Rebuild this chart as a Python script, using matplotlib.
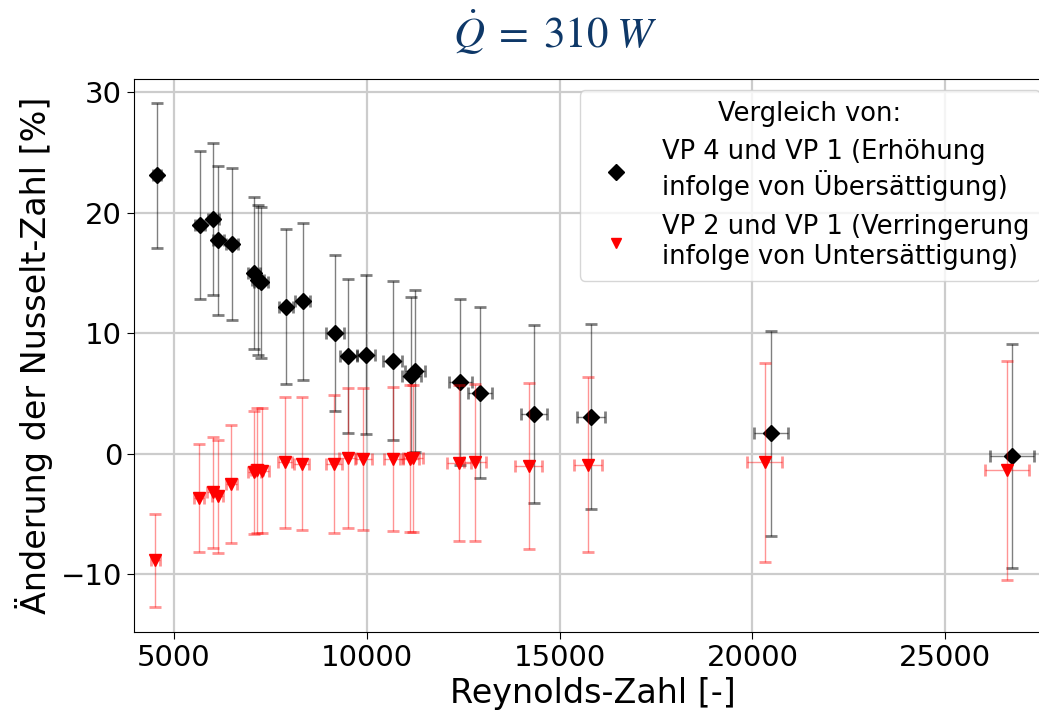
import matplotlib
matplotlib.use("Agg")
import matplotlib.pyplot as plt

# Black series: VP 4 vs VP 1
re_black = [4560, 5673, 6029, 6150, 6503, 7082, 7186, 7260, 7912, 8342, 9171, 9518,
            9992, 10674, 11158, 11244, 12420, 12937, 14334, 15824, 20484, 26736]
nu_black = [23.1, 18.95, 19.45, 17.7, 17.4, 15.0, 14.4, 14.2, 12.2, 12.64, 10.0, 8.1,
            8.2, 7.7, 6.47, 6.86, 5.95, 5.04, 3.29, 3.07, 1.69, -0.17]
yerr_black = [6.0, 6.15, 6.3, 6.2, 6.3, 6.3, 6.2, 6.3, 6.4, 6.5, 6.5, 6.4,
              6.6, 6.6, 6.5, 6.7, 6.9, 7.1, 7.4, 7.7, 8.5, 9.3]
xerr_black = [110, 130, 140, 140, 150, 165, 165, 170, 180, 190, 230, 220,
              230, 245, 255, 260, 298, 302, 337, 361, 448, 570]

# Red series: VP 2 vs VP 1
re_red = [4526, 5657, 6010, 6140, 6495, 7091, 7160, 7290, 7876, 8316, 9163, 9508,
          9915, 10684, 11114, 11202, 12383, 12815, 14197, 15746, 20318, 26600]
nu_red = [-8.85, -3.68, -3.2, -3.54, -2.52, -1.55, -1.4, -1.41, -0.72, -0.83, -0.86, -0.39,
          -0.47, -0.44, -0.44, -0.39, -0.77, -0.72, -1.02, -0.91, -0.72, -1.38]
yerr_red = [3.85, 4.45, 4.6, 4.7, 4.9, 5.1, 5.2, 5.2, 5.45, 5.5, 5.7, 5.8,
            5.9, 6.0, 6.1, 6.1, 6.5, 6.5, 6.9, 7.25, 8.25, 9.1]
xerr_red = [105, 130, 140, 140, 150, 165, 165, 170, 180, 190, 210, 220,
            230, 245, 255, 260, 311, 290, 346, 365, 453, 570]

label_black = "VP 4 und VP 1 (Erhöhung\ninfolge von Übersättigung)"
label_red = "VP 2 und VP 1 (Verringerung\ninfolge von Untersättigung)"
xticks = [5000, 10000, 15000, 20000, 25000]
yticks = [-10, 0, 10, 20, 30]

plt.rcParams['mathtext.fontset'] = 'stix'

fig = plt.figure(figsize=(10.39, 7.10), dpi=100)
ax = fig.add_axes([0.129, 0.110, 0.883, 0.779])

ax.errorbar(re_black, nu_black, yerr=yerr_black, xerr=xerr_black, fmt='D',
            color='black', ms=8.5, ecolor=(0, 0, 0, 0.5), elinewidth=1,
            capsize=4, capthick=2, label=label_black, zorder=3)
ax.errorbar(re_red, nu_red, yerr=yerr_red, xerr=xerr_red, fmt='v',
            color='red', ms=9, ecolor=(1, 0, 0, 0.42), elinewidth=1,
            capsize=4, capthick=2, label=label_red, zorder=4)

ax.set_xlim(3970, 27750)
ax.set_ylim(-14.8, 31.1)
ax.set_xticks(xticks)
ax.set_yticks(yticks)
ax.tick_params(labelsize=21, length=5)
ax.grid(True, color='#cccccc', linewidth=1.6)
ax.set_axisbelow(True)
ax.set_xlabel("Reynolds-Zahl [-]", fontsize=24, labelpad=4)
ax.set_ylabel("Änderung der Nusselt-Zahl [%]", fontsize=24, labelpad=6)

handles = [plt.Line2D([], [], marker='D', ls='none', color='black', ms=8.5),
           plt.Line2D([], [], marker='v', ls='none', color='red', ms=7.5)]
leg = ax.legend(handles, [label_black, label_red], loc='upper right',
                title="Vergleich von:", fontsize=18.5, title_fontsize=18.5,
                borderaxespad=0.45)

fig.text(0.534, 0.955, r'$\dot{Q}\;=\;310\;W$', fontsize=31, color='#0e3868',
         ha='center', va='center')

fig.savefig("out.png", dpi=100)
